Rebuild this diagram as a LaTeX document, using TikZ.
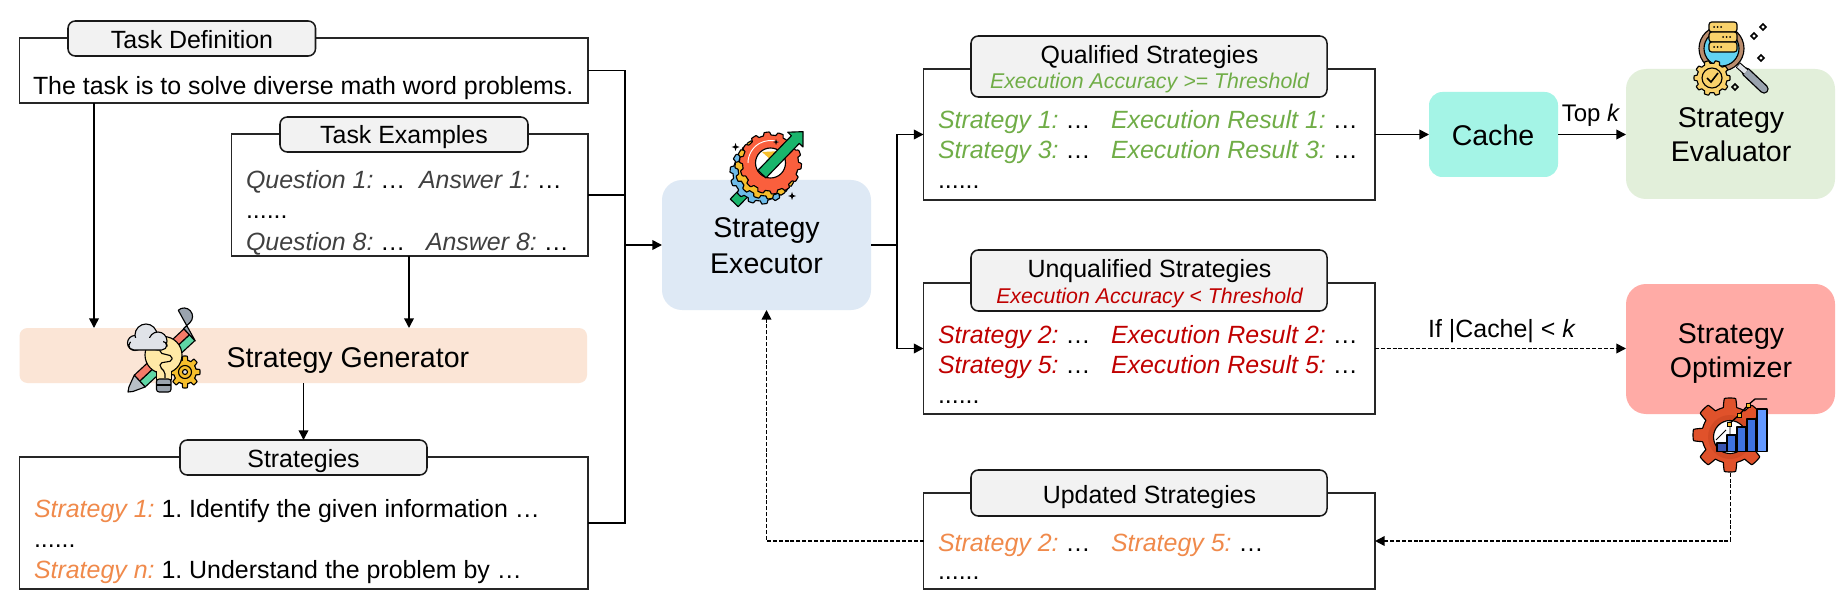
\documentclass[tikz,border=0pt]{standalone}
\usepackage{fontspec}
\setmainfont{Liberation Sans}
\usetikzlibrary{arrows.meta,calc}
\frenchspacing
\definecolor{orangeT}{HTML}{F08A4B}
\definecolor{greenT}{HTML}{70AD47}
\definecolor{redT}{HTML}{C00000}
\definecolor{grayT}{HTML}{404040}
\definecolor{tagF}{HTML}{F2F2F2}
\definecolor{genF}{HTML}{FBE5D6}
\definecolor{execF}{HTML}{DEE9F5}
\definecolor{cacheF}{HTML}{A4F4E6}
\definecolor{evalF}{HTML}{E2EFDA}
\definecolor{optF}{HTML}{FFABA6}
\definecolor{icSalmon}{HTML}{F47A68}
\definecolor{icMint}{HTML}{5FD6A5}
\definecolor{icGrey}{HTML}{9AA3AE}
\definecolor{icCloud}{HTML}{E0E3E8}
\definecolor{icBulb}{HTML}{FFE9A6}
\definecolor{icGold}{HTML}{F6BE2C}
\definecolor{icSand}{HTML}{F9D26B}
\definecolor{icLens}{HTML}{62D2F2}
\definecolor{icBrown}{HTML}{B98C6D}
\definecolor{icRed}{HTML}{FA5F3D}
\definecolor{icBlue}{HTML}{6DBBE8}
\definecolor{icGreen}{HTML}{19B56C}
\definecolor{icRust}{HTML}{E0522B}
\definecolor{icRustD}{HTML}{D24A25}
\definecolor{icBar}{HTML}{3F73E0}
\definecolor{icBarL}{HTML}{6499FF}
\definecolor{icBarD}{HTML}{3A55B0}
\tikzset{
  panel/.style={draw=black!85,line width=1.15pt,fill=white},
  tagbox/.style={draw=black!90,line width=1.15pt,fill=tagF,rounded corners=5.5pt},
  txt/.style={inner sep=0pt,outer sep=0pt,anchor=base,text=black},
  txtl/.style={inner sep=0pt,outer sep=0pt,anchor=base west,text=black},
  fL/.style={font=\fontsize{18.7pt}{22pt}\selectfont},
  fG/.style={font=\fontsize{21.4pt}{26pt}\selectfont},
  fMS/.style={font=\fontsize{16pt}{19pt}\selectfont\itshape},
  fTop/.style={font=\fontsize{18pt}{22pt}\selectfont},
  conn/.style={line width=1.15pt,draw=black},
  arr/.style={conn,-{Triangle[length=7.2pt,width=7.2pt]}},
  darr/.style={arr,dash pattern=on 3pt off 1.4pt},
  ink/.style={draw=black,line width=0.85pt,line join=round},
}
\newcommand{\boxnode}[7]{\node[#2,minimum width={(#5-#3)*0.75pt},minimum height={(#6-#4)*0.75pt},inner sep=0pt,outer sep=0pt] (#1) at ({(#3+#5)/2},{(#4+#6)/2}) {#7};}
% cx cy rx ry depth teeth phase style
\newcommand{\gearicon}[8]{\draw[#8] plot[domain=0:360,samples=241,variable=\t]
 ({#1+#3*(1-#5*(0.5-0.5*max(-1,min(1,3*sin(#6*\t+#7)))))*cos(\t)},
  {#2+#4*(1-#5*(0.5-0.5*max(-1,min(1,3*sin(#6*\t+#7)))))*sin(\t)}) -- cycle;}
\newcommand{\sparkle}[3]{\fill[black] (#1,#2-#3)--(#1+0.25*#3,#2-0.25*#3)--(#1+#3,#2)--(#1+0.25*#3,#2+0.25*#3)--(#1,#2+#3)--(#1-0.25*#3,#2+0.25*#3)--(#1-#3,#2)--(#1-0.25*#3,#2-0.25*#3)--cycle;}
\newcommand{\hollow}[2]{\draw[black,line width=1.1pt] (#1,#2-3)--(#1+3,#2)--(#1,#2+3)--(#1-3,#2)--cycle;}
\begin{document}
\begin{tikzpicture}[x=0.75pt,y=-0.75pt]
\useasboundingbox (0,0) rectangle (1847,602);
\fill[white] (0,0) rectangle (1847,602);
% stage boxes
\boxnode{gen}{fill=genF,rounded corners=6pt}{19.5}{328}{587}{383}{}
\boxnode{exec}{fill=execF,rounded corners=15pt}{662}{180}{871}{310}{}
\boxnode{cache}{fill=cacheF,rounded corners=10pt}{1429}{92}{1558}{177}{}
\boxnode{eval}{fill=evalF,rounded corners=15pt}{1626}{69}{1835}{199}{}
\boxnode{opt}{fill=optF,rounded corners=15pt}{1626}{284}{1835}{414}{}
% connector helpers
\coordinate (bus) at (625,245);
\coordinate (bust) at (897,245);
\coordinate (cdef) at (94,300);
\coordinate (cex) at (409,300);
\coordinate (cgen) at (303.5,400);
% panels
\boxnode{taskdef}{panel}{19.5}{38}{588}{103}{}
\boxnode{examples}{panel}{231.5}{134}{588}{256}{}
\boxnode{strategies}{panel}{19.5}{457}{588}{589}{}
\boxnode{qual}{panel}{923.5}{69}{1375}{200}{}
\boxnode{unq}{panel}{923.5}{283}{1375}{414}{}
\boxnode{upd}{panel}{923.5}{493}{1375}{589}{}
% tags
\boxnode{tagdef}{tagbox}{68}{21}{315.5}{56}{}
\boxnode{tagex}{tagbox}{280}{117}{528}{152}{}
\boxnode{tagst}{tagbox}{180}{440}{427}{475}{}
\boxnode{tagq}{tagbox}{971}{36}{1327}{97}{}
\boxnode{tagu}{tagbox}{971}{250}{1327}{311}{}
\boxnode{tagupd}{tagbox}{971}{470}{1327}{516}{}
% connectors
\draw[conn] (taskdef.east) -| (bus) |- (strategies.east);
\draw[conn] (examples.east) -- (examples.east -| bus);
\draw[arr] (bus) -- (exec.west);
\draw[arr] (taskdef.south -| cdef) -- (gen.north -| cdef);
\draw[arr] (examples.south -| cex) -- (gen.north -| cex);
\draw[arr] (gen.south -| cgen) -- (tagst.north -| cgen);
\draw[conn] (exec.east) -- (bust);
\draw[arr] (bust) |- (qual.west);
\draw[arr] (bust) |- (unq.west);
\draw[arr] (qual.east) -- (qual.east -| cache.west);
\draw[arr] (cache.east |- qual.east) -- (eval.west |- qual.east);
\draw[darr] (unq.east) -- (opt.west |- unq.east);
\draw[darr] (opt.south) |- (upd.east);
\draw[darr] (upd.west) -| (exec.south);
% left texts
\node[txt,fL] (tdef) at (192,49) {Task Definition};
\node[txtl,fL] (tdefl) at (33,95) {The task is to solve diverse math word problems.};
\node[txt,fL] (tex) at (404,144) {Task Examples};
\node[txtl,fL] (q1) at (246,189) {\textcolor{grayT}{\itshape Question 1:} …};
\node[txtl,fL] (a1) at (419,189) {\textcolor{grayT}{\itshape Answer 1:} …};
\node[txtl,fL] (exdots) at (246,219) {......};
\node[txtl,fL] (q8) at (246,250) {\textcolor{grayT}{\itshape Question 8:} …};
\node[txtl,fL] (a8) at (426,250) {\textcolor{grayT}{\itshape Answer 8:} …};
\node[txtl,fG] (tgen) at (226.5,367) {Strategy Generator};
\node[txt,fL] (tst) at (303.5,467) {Strategies};
\node[txtl,fL] (s1) at (34,517) {\textcolor{orangeT}{\itshape Strategy 1:} 1. Identify the given information …};
\node[txtl,fL] (sdots) at (34,547) {......};
\node[txtl,fL] (sn) at (34,578) {\textcolor{orangeT}{\itshape Strategy n:} 1. Understand the problem by …};
% executor
\node[txt,fG] (te1) at (766.5,238) {Strategy};
\node[txt,fG] (te2) at (766.5,273) {Executor};
% qualified
\node[txt,fL] (tq) at (1149.5,64) {Qualified Strategies};
\node[txt,fMS,text=greenT] (tqs) at (1149.5,89) {Execution Accuracy >= Threshold};
\node[txtl,fL] (qs1) at (938,129) {\textcolor{greenT}{\itshape Strategy 1:} …};
\node[txtl,fL] (qr1) at (1111,129) {\textcolor{greenT}{\itshape Execution Result 1:} …};
\node[txtl,fL] (qs3) at (938,159) {\textcolor{greenT}{\itshape Strategy 3:} …};
\node[txtl,fL] (qr3) at (1111,159) {\textcolor{greenT}{\itshape Execution Result 3:} …};
\node[txtl,fL] (qdots) at (938,189) {......};
% unqualified
\node[txt,fL] (tu) at (1149.5,277) {Unqualified Strategies};
\node[txt,fMS,text=redT] (tus) at (1149.5,303) {Execution Accuracy < Threshold};
\node[txtl,fL] (us2) at (938,343) {\textcolor{redT}{\itshape Strategy 2:} …};
\node[txtl,fL] (ur2) at (1111,343) {\textcolor{redT}{\itshape Execution Result 2:} …};
\node[txtl,fL] (us5) at (938,373) {\textcolor{redT}{\itshape Strategy 5:} …};
\node[txtl,fL] (ur5) at (1111,373) {\textcolor{redT}{\itshape Execution Result 5:} …};
\node[txtl,fL] (udots) at (938,403) {......};
% updated
\node[txt,fL] (tup) at (1149.5,503) {Updated Strategies};
\node[txtl,fL] (up2) at (938,551) {\textcolor{orangeT}{\itshape Strategy 2:} …};
\node[txtl,fL] (up5) at (1111,551) {\textcolor{orangeT}{\itshape Strategy 5:} …};
\node[txtl,fL] (updots) at (938,579) {......};
% right
\node[txt,fG] (tc) at (1493,146) {Cache};
\node[txt,fTop] (ttop) at (1591,122) {Top \textit{k}};
\node[txt,fG] (tev1) at (1731,128) {Strategy};
\node[txt,fG] (tev2) at (1731,162) {Evaluator};
\node[txt,fL] (tif) at (1502,337) {If |Cache| < \textit{k}};
\node[txt,fG] (top1) at (1731,343) {Strategy};
\node[txt,fG] (top2) at (1731,377) {Optimizer};
% ---------- generator icon
\begin{scope}[shift={(128,392)},rotate=43]
 \filldraw[ink,fill=icMint] (16,0) rectangle (40,8);
 \filldraw[ink,fill=icSalmon] (16,-8) rectangle (40,0);
 \filldraw[ink,fill=icMint] (64,0) rectangle (84,8);
 \filldraw[ink,fill=icSalmon] (64,-8) rectangle (84,0);
 \filldraw[ink,fill=icGrey!70] (16,-8) -- (4,-3) -- (0,0) -- (4,3) -- (16,8) -- cycle;
 \filldraw[ink,fill=icGrey] (84,-8.5) -- (92.5,-8.5) arc[start angle=90,end angle=-90,radius=8.5] -- (84,8.5) -- cycle;
\end{scope}
\gearicon{185}{372}{15}{16}{0.25}{8}{90}{ink,fill=icGold}
\filldraw[ink,fill=icGold] (185,372) circle (6.5);
\filldraw[ink,fill=icCloud] (185,372) circle (2.5);
\filldraw[ink,fill=icBulb] (163.5,355) circle (18.5);
\filldraw[ink,fill=icBulb] (156.5,372) -- (156.5,380) -- (171,380) -- (171,372) -- cycle;
\fill[icBulb] (157,364) rectangle (170.5,379);
\draw[ink,rounded corners=1.5pt] (160,348)--(160,353)--(172,356)--(172,361)--(160,363)--(160,367)--(165,372)--(165,378);
\filldraw[ink,fill=icGrey,rounded corners=2pt] (156.5,379) rectangle (171,392);
\draw[ink] (157,385)--(171,385);
\filldraw[ink,fill=icCloud] (135,343) circle (7.5);
\filldraw[ink,fill=icCloud] (146,335) circle (11);
\filldraw[ink,fill=icCloud] (158,341) circle (9);
\filldraw[ink,fill=icCloud,rounded corners=4pt] (128.5,341) rectangle (167,350);
\fill[icCloud] (131,338) rectangle (163,347);
% ---------- executor icon
\begin{scope}[shift={(737,200)},rotate=46]
 \filldraw[ink,fill=icGreen] (-4,-5.5) rectangle (15,5.5);
\end{scope}
\gearicon{761}{173}{31}{31}{0.1}{14}{0}{ink,fill=icBlue}
\gearicon{766}{168}{31}{31}{0.1}{14}{15}{ink,fill=icGold}
\gearicon{770.5}{163}{31}{31}{0.1}{14}{5}{ink,fill=icRed}
\filldraw[ink,fill=white] (770.5,163) circle (15);
\fill[icGold] (762,152) -- (782,151) -- (771,160) -- cycle;
\fill[icBlue] (758,168) -- (768,172) -- (766,177) -- cycle;
\draw[white,line width=0.7pt] (748,163) arc[start angle=180,end angle=290,radius=22.5];
\begin{scope}[shift={(737,200)},rotate=46]
 \filldraw[ink,fill=icGreen] (36,-5.5) -- (84,-5.5) -- (84,-10.6) -- (95,0) -- (84,10.6) -- (84,5.5) -- (36,5.5) -- cycle;
\end{scope}
\sparkle{735.5}{147}{4}
\sparkle{792}{196}{4}
\sparkle{776}{142}{3}
% ---------- evaluator icon
\filldraw[ink,fill=icBrown] (1721.5,48.5) circle (22.5);
\filldraw[ink,fill=icLens] (1721.5,48.5) circle (17.5);
\draw[black,line width=7pt,line cap=round] (1746,72) -- (1764,89);
\draw[icGrey,line width=5pt,line cap=round] (1746,72) -- (1764,89);
\draw[black,line width=5pt] (1738,65) -- (1746,72);
\draw[icCloud,line width=3.4pt] (1738.5,65.5) -- (1746,72);
\foreach \ya/\dotx in {22/1714,32/1723,42/1714}{
 \filldraw[ink,fill=icSand,rounded corners=2pt] (1709,\ya) rectangle (1737,\ya+10);
 \fill[black] (\dotx,\ya+5) circle (1) (\dotx+3.5,\ya+5) circle (1) (\dotx+7,\ya+5) circle (1);
}
\gearicon{1712}{78}{18}{17.5}{0.16}{10}{90}{ink,fill=icSand}
\filldraw[ink,fill=icSand] (1712,78) circle (10);
\draw[black,line width=1.2pt] (1707,78) -- (1711,82) -- (1718,73);
\hollow{1763}{27}
\hollow{1754}{36}
\hollow{1761}{58}
\hollow{1735}{87}
% ---------- optimizer icon
\gearicon{1730}{435}{37}{37}{0.24}{8}{90}{ink,fill=icRust}
\filldraw[draw=none,fill=icRustD] (1730,437) circle (22);
\filldraw[ink,fill=white] (1730,437) circle (16.5);
\draw[black,line width=0.6pt] (1716,440) -- (1726,430) (1730,421) -- (1730,440);
\filldraw[ink,fill=icBarD] (1717,443) rectangle (1727,451.5);
\foreach \xa/\xb/\yt in {1727/1736/435,1737/1746/427,1747/1756/419}{
 \filldraw[ink,fill=icBar] (\xa,\yt) rectangle (\xb,451.5);
}
\filldraw[ink,fill=icBarL] (1757,409) rectangle (1767,451.5);
\draw[black,line width=1pt] (1729,424)--(1739,415)--(1748,405)--(1755,399)--(1767,399);
\foreach \xa/\ya in {1729/424,1739/415,1748/405}{
 \filldraw[draw=black,line width=0.7pt,fill=icGold] (\xa-2,\ya-2) rectangle (\xa+2,\ya+2);
}
\end{tikzpicture}
\end{document}
